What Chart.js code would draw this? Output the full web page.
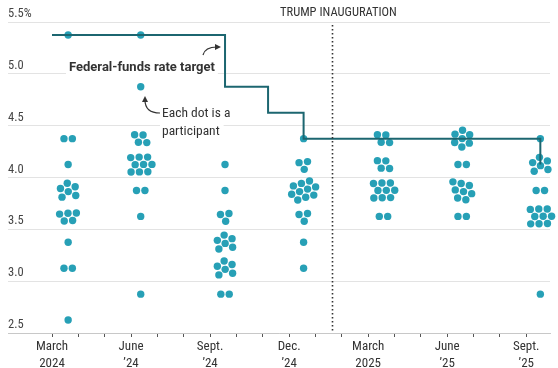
<!DOCTYPE html>
<html>
<head>
<meta charset="utf-8">
<script src="https://cdn.jsdelivr.net/npm/chart.js@4.4.1/dist/chart.umd.min.js"></script>
<style>
  html, body { margin: 0; padding: 0; background: #fff; }
  #wrap { width: 558px; height: 368px; }
</style>
</head>
<body>
<div id="wrap"><canvas id="dotChart" width="558" height="368"></canvas></div>
<script>
// SEP meetings and each participant's projection for end of 2025 (midpoint, %)
const meetingDates = ['2024-03-20', '2024-06-12', '2024-09-18', '2024-12-18', '2025-03-19', '2025-06-18', '2025-09-17'];
const dotsMar24 = [5.375, 4.375, 4.375, 4.125, 3.875, 3.875, 3.875, 3.875, 3.875, 3.875, 3.625, 3.625, 3.625, 3.625, 3.625, 3.375, 3.125, 3.125, 2.625];
const dotsJun24 = [5.375, 4.875, 4.375, 4.375, 4.375, 4.375, 4.125, 4.125, 4.125, 4.125, 4.125, 4.125, 4.125, 4.125, 4.125, 3.875, 3.875, 3.625, 2.875];
const dotsSep24 = [4.125, 3.875, 3.625, 3.625, 3.625, 3.375, 3.375, 3.375, 3.375, 3.375, 3.375, 3.125, 3.125, 3.125, 3.125, 3.125, 3.125, 2.875, 2.875];
const dotsDec24 = [4.375, 4.125, 4.125, 4.125, 3.875, 3.875, 3.875, 3.875, 3.875, 3.875, 3.875, 3.875, 3.875, 3.875, 3.625, 3.625, 3.625, 3.375, 3.125];
const dotsMar25 = [4.375, 4.375, 4.375, 4.375, 4.125, 4.125, 4.125, 4.125, 3.875, 3.875, 3.875, 3.875, 3.875, 3.875, 3.875, 3.875, 3.875, 3.625, 3.625];
const dotsJun25 = [4.375, 4.375, 4.375, 4.375, 4.375, 4.375, 4.375, 4.125, 4.125, 3.875, 3.875, 3.875, 3.875, 3.875, 3.875, 3.875, 3.875, 3.625, 3.625];
const dotsSep25 = [4.375, 4.125, 4.125, 4.125, 4.125, 4.125, 4.125, 3.875, 3.875, 3.625, 3.625, 3.625, 3.625, 3.625, 3.625, 3.625, 3.625, 3.625, 2.875];
const projections = [dotsMar24, dotsJun24, dotsSep24, dotsDec24, dotsMar25, dotsJun25, dotsSep25];

// federal-funds target range midpoint
const rateDates = ['2024-03-01', '2024-09-18', '2024-11-07', '2024-12-18', '2025-09-17', '2025-09-17'];
const rateValues = [5.375, 4.875, 4.625, 4.375, 4.375, 4.125];

const tickLabels = [['March', '2024'], ['June', '\u201924'], ['Sept.', '\u201924'], ['Dec.', '\u201924'],
                    ['March', '2025'], ['June', '\u201925'], ['Sept.', '\u201925']];
const yTicks = [2.5, 3.0, 3.5, 4.0, 4.5, 5.0, 5.5];
const inauguration = '2025-01-20';

const FONT = '"Liberation Sans Narrow", "Roboto Condensed", Roboto, sans-serif';

// months since March 1, 2024
function monthIndex(s) {
  const [y, m, d] = s.split('-').map(Number);
  const dim = new Date(y, m, 0).getDate();
  return (y - 2024) * 12 + (m - 3) + (d - 1) / dim;
}

const dotData = [];
projections.forEach((vals, k) => vals.forEach(v => dotData.push({ x: monthIndex(meetingDates[k]), y: v })));

const overlay = {
  id: 'overlay',
  afterDraw(chart) {
    const { ctx, scales: { x, y } } = chart;
    ctx.save();
    // inauguration marker
    const ix = Math.round(x.getPixelForValue(monthIndex(inauguration))) + 0.5;
    ctx.strokeStyle = '#333';
    ctx.lineWidth = 1.6;
    ctx.setLineDash([1.6, 2.4]);
    ctx.beginPath();
    ctx.moveTo(ix, 25);
    ctx.lineTo(ix, y.bottom);
    ctx.stroke();
    ctx.setLineDash([]);
    ctx.fillStyle = '#333';
    ctx.font = '12.5px ' + FONT;
    ctx.textAlign = 'left';
    ctx.textBaseline = 'middle';
    ctx.fillText('TRUMP INAUGURATION', 280, 13);

    // labels
    ctx.font = 'bold 13px Roboto, sans-serif';
    let w = ctx.measureText('Federal-funds rate target').width;
    ctx.fillStyle = '#fff';
    ctx.fillRect(66, 60, w + 6, 16);
    ctx.fillStyle = '#333';
    ctx.fillText('Federal-funds rate target', 69, 68);

    ctx.font = '13.5px ' + FONT;
    w = ctx.measureText('participant').width;
    ctx.fillStyle = '#fff';
    ctx.fillRect(160, 106, w + 6, 34);
    ctx.fillStyle = '#333';
    ctx.fillText('Each dot is a', 162, 114);
    ctx.fillText('participant', 162, 132);

    // arrows
    ctx.strokeStyle = '#333';
    ctx.lineWidth = 1.2;
    ctx.beginPath();
    ctx.moveTo(203, 55);
    ctx.quadraticCurveTo(205, 47, 217, 47);
    ctx.stroke();
    ctx.fillStyle = '#333';
    ctx.beginPath();
    ctx.moveTo(221, 47); ctx.lineTo(215, 44); ctx.lineTo(215, 50); ctx.closePath();
    ctx.fill();

    ctx.beginPath();
    ctx.moveTo(160, 113);
    ctx.quadraticCurveTo(145, 113, 145, 100);
    ctx.stroke();
    ctx.beginPath();
    ctx.moveTo(145, 96); ctx.lineTo(142, 102); ctx.lineTo(148, 102); ctx.closePath();
    ctx.fill();
    ctx.restore();
  }
};

const chart = new Chart(document.getElementById('dotChart'), {
  type: 'scatter',
  data: {
    datasets: [{
      type: 'line',
      data: rateDates.map((d, i) => ({ x: monthIndex(d), y: rateValues[i] })),
      stepped: 'before',
      borderColor: '#1c6670',
      borderWidth: 2,
      pointRadius: 0,
      fill: false,
      order: 0,
    }, {
      data: dotData,
      backgroundColor: '#27a0b6',
      borderWidth: 0,
      pointRadius: 3.7,
      pointHoverRadius: 3.7,
      clip: false,
      order: 1,
    }]
  },
  options: {
    responsive: false,
    animation: false,
    layout: { padding: { left: 8, right: 8, top: 22, bottom: 0 } },
    plugins: { legend: { display: false }, tooltip: { enabled: false } },
    scales: {
      x: {
        type: 'linear',
        min: -1.67,
        max: 18.9,
        afterBuildTicks: s => { s.ticks = Array.from({ length: 19 }, (_, i) => ({ value: i })); },
        afterFit: s => { s.height = 35; },
        grid: { drawOnChartArea: false, drawTicks: true, tickLength: 4, color: '#555' },
        border: { display: true, color: '#c8c8c8' },
        ticks: {
          autoSkip: false,
          maxRotation: 0,
          padding: 2,
          color: '#333',
          font: { family: FONT, size: 13, lineHeight: 1.25 },
          callback: v => (v % 3 === 0 ? tickLabels[v / 3] : ''),
        }
      },
      y: {
        min: 2.5,
        max: 5.5,
        afterBuildTicks: s => { s.ticks = yTicks.map(v => ({ value: v })); },
        afterFit: s => { s.width = 0; },
        grid: { drawTicks: false, color: '#e3e3e3' },
        border: { display: false },
        ticks: {
          mirror: true,
          padding: 0,
          labelOffset: -8,
          color: '#444',
          font: { family: FONT, size: 12.5 },
          callback: v => (v === 5.5 ? '5.5%' : v.toFixed(1)),
        }
      }
    }
  },
  plugins: [overlay]
});

// beeswarm: start each group as a small staggered block, pull towards
// (meeting, value) and push overlapping dots apart
(function swarm() {
  const xs = chart.scales.x, ys = chart.scales.y;
  const R = 4.2;
  const out = [];
  projections.forEach((vals, k) => {
    const cx = xs.getPixelForValue(monthIndex(meetingDates[k]));
    const nodes = vals.map((v, i) => {
      const same = vals.filter(u => u === v).length;
      const g = vals.slice(0, i).filter(u => u === v).length;
      const cols = Math.ceil(Math.sqrt(same));
      const rows = Math.ceil(same / cols);
      const col = g % cols, row = Math.floor(g / cols);
      const ty = ys.getPixelForValue(v);
      return {
        x: cx + (col - (cols - 1) / 2 + (row % 2 ? 0.25 : -0.25)) * 2 * R,
        y: ty + (row - (rows - 1) / 2) * 1.6 * R,
        tx: cx, ty
      };
    });
    for (let it = 0; it < 500; it++) {
      nodes.forEach(n => { n.x += (n.tx - n.x) * 0.05; n.y += (n.ty - n.y) * 0.05; });
      for (let p = 0; p < 3; p++) {
        for (let i = 0; i < nodes.length; i++) {
          for (let j = i + 1; j < nodes.length; j++) {
            const a = nodes[i], b = nodes[j];
            let dx = b.x - a.x, dy = b.y - a.y;
            let d = Math.hypot(dx, dy);
            if (d < 2 * R) {
              if (d < 1e-6) { dx = 0.01 * (j - i); dy = 0; d = Math.abs(dx); }
              const m = (2 * R - d) / d / 2;
              a.x -= dx * m; a.y -= dy * m;
              b.x += dx * m; b.y += dy * m;
            }
          }
        }
      }
    }
    nodes.forEach(n => out.push({ x: xs.getValueForPixel(n.x), y: ys.getValueForPixel(n.y) }));
  });
  chart.data.datasets[1].data = out;
  chart.update('none');
})();
</script>
</body>
</html>
